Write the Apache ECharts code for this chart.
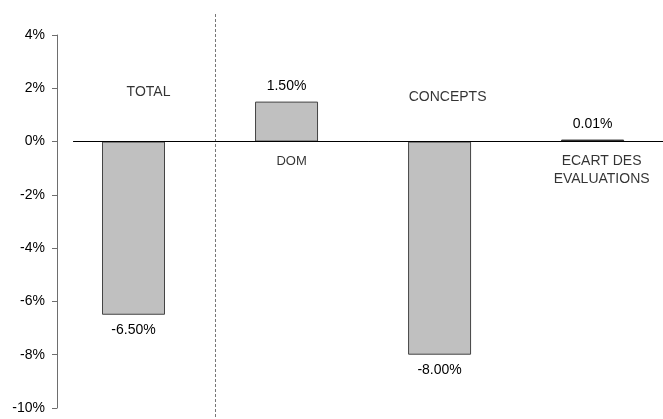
<!DOCTYPE html>
<html>
<head>
<meta charset="utf-8">
<script src="https://cdn.jsdelivr.net/npm/echarts@6/dist/echarts.min.js"></script>
<style>
  html, body { margin: 0; padding: 0; background: #fff; }
  #chart { width: 663px; height: 419px; }
</style>
</head>
<body>
<div id="chart"></div>
<script>
// Contributions to the overall change, in percent
const categories = ['TOTAL', 'DOM', 'CONCEPTS', 'ECART DES\nEVALUATIONS'];
const values = [-6.50, 1.50, -8.00, 0.01];
const yTicks = [-10, -8, -6, -4, -2, 0, 2, 4];

// Where each category name sits relative to its bar foot on the zero line
const nameOffsets = [[15, -49], [5, 20], [8, -44], [9, 29]];
const nameSizes = [14, 13, 14, 14];

const FONT = '"Liberation Sans", Arial, sans-serif';
const chart = echarts.init(document.getElementById('chart'), null, { renderer: 'canvas' });

const barData = values.map((v, i) => ({
  value: [i, v],
  // a near-zero bar collapses to its outline, so draw it as a solid dark strip
  itemStyle: Math.abs(v) < 0.1 ? { color: '#333', borderColor: '#333' } : undefined,
  label: {
    show: true,
    position: v >= 0 ? 'top' : 'bottom',
    distance: 8,
    formatter: v.toFixed(2) + '%',
    color: '#000',
    fontSize: 14,
    fontFamily: FONT
  }
}));

const nameData = categories.map((c, i) => ({
  value: [i, 0],
  label: {
    show: true,
    position: 'inside',
    offset: nameOffsets[i],
    formatter: c,
    color: '#000',
    fontSize: nameSizes[i],
    lineHeight: 18,
    fontFamily: FONT,
    align: 'center',
    verticalAlign: 'middle'
  }
}));

chart.setOption({
  animation: false,
  backgroundColor: '#fff',
  grid: { left: 57, right: 0, top: 35, bottom: 11, containLabel: false },
  xAxis: {
    type: 'value',
    min: -0.5,
    max: 3.46,
    show: false
  },
  yAxis: {
    type: 'value',
    min: yTicks[0],
    max: yTicks[yTicks.length - 1],
    interval: 2,
    axisLine: { show: true, onZero: false, lineStyle: { color: '#6e6e6e', width: 1 } },
    axisTick: { show: true, inside: false, length: 5, lineStyle: { color: '#6e6e6e' } },
    axisLabel: {
      margin: 12,
      color: '#000',
      fontSize: 14,
      fontFamily: FONT,
      formatter: v => v + '%'
    },
    splitLine: { show: false }
  },
  series: [
    {
      type: 'bar',
      data: barData,
      barWidth: 63,
      barMinHeight: 2,
      itemStyle: { color: '#c0c0c0', borderColor: '#444', borderWidth: 1 },
      z: 2,
      markLine: {
        silent: true,
        symbol: 'none',
        label: { show: false },
        lineStyle: { color: '#000', width: 1, type: 'solid' },
        data: [[{ coord: [-0.395, 0] }, { coord: [3.46, 0] }]],
        z: 5
      }
    },
    {
      type: 'scatter',
      data: nameData,
      symbolSize: 0,
      itemStyle: { color: 'rgba(0,0,0,0)' },
      silent: true,
      z: 6
    }
  ]
});

// Dashed divider between the total and its components, running the full height
const divX = chart.convertToPixel({ xAxisIndex: 0 }, 0.53);
chart.setOption({
  graphic: [{
    type: 'line',
    shape: { x1: Math.round(divX) + 0.5, y1: 14, x2: Math.round(divX) + 0.5, y2: 419 },
    style: { stroke: '#777', lineWidth: 1, lineDash: [3, 2] },
    silent: true
  }]
});
</script>
</body>
</html>
